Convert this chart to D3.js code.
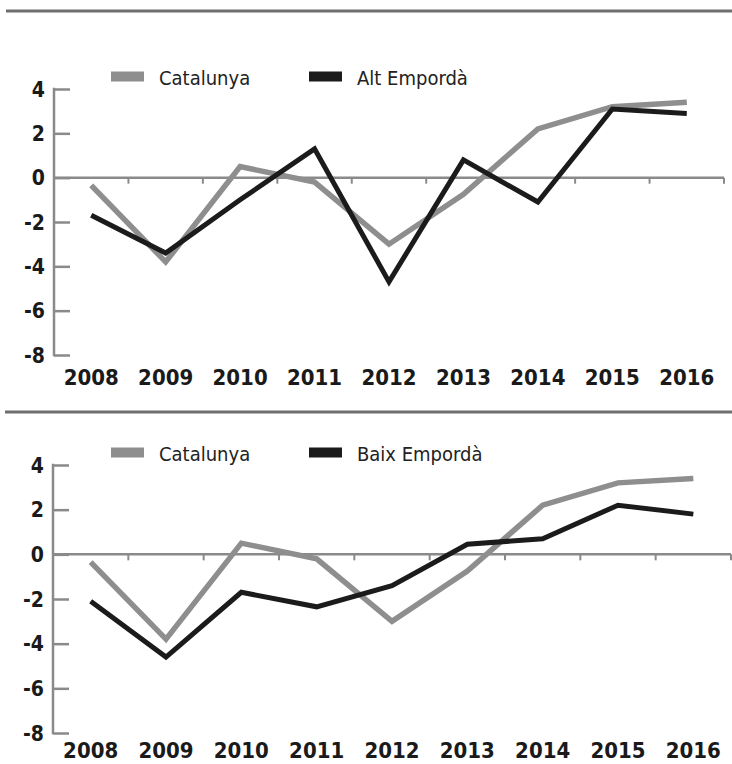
<!DOCTYPE html>
<html>
<head>
<meta charset="utf-8">
<script src="https://cdn.jsdelivr.net/npm/d3@7"></script>
<style>
  body { margin: 0; background: #fff; }
  svg { display: block; }
</style>
</head>
<body>
<svg id="chart" width="732" height="764"></svg>
<script>
// data
const years = ['2008', '2009', '2010', '2011', '2012', '2013', '2014', '2015', '2016'];
const yTicks = [4, 2, 0, -2, -4, -6, -8];
const catalunya = [-0.35, -3.8, 0.5, -0.2, -3.0, -0.75, 2.2, 3.2, 3.4];
const altEmporda = [-1.7, -3.4, -1.0, 1.3, -4.7, 0.8, -1.1, 3.1, 2.9];
const baixEmporda = [-2.1, -4.6, -1.7, -2.35, -1.4, 0.45, 0.7, 2.2, 1.8];

const grey = '#8e8e8e';
const dark = '#1b1b1b';
const axisColor = '#8a8a8a';
const labelFont = '"DejaVu Sans Condensed", "DejaVu Sans", sans-serif';
const legendFont = '"Liberation Sans Narrow", "DejaVu Sans Condensed", sans-serif';

const svg = d3.select('#chart');

function appendRule(parent, y, x0){
  parent.append('line')
    .attr('x1', x0)
    .attr('x2', 732)
    .attr('y1', y)
    .attr('y2', y)
    .style('stroke', '#6e6e6e')
    .style('stroke-width', 3);
}

function buildPanel(parent, opts){
  const g = parent.append('g').attr('class', 'panel');

  const x = d3.scaleBand()
    .domain(years)
    .range([opts.left, opts.right]);

  const y = d3.scaleLinear()
    .domain([-8, 4])
    .range([opts.bottom, opts.top]);

  // y axis, ticks pointing inward
  const yAxis = g.append('g')
    .attr('transform', `translate(${opts.left}, 0)`)
    .call(d3.axisRight(y).tickValues(yTicks).tickSize(16).tickFormat(''));
  yAxis.select('.domain').remove();
  yAxis.selectAll('.tick line')
    .style('stroke', axisColor)
    .style('stroke-width', 2.5);
  g.append('line')
    .attr('x1', opts.left)
    .attr('x2', opts.left)
    .attr('y1', y(4) - 1.2)
    .attr('y2', y(-8) + 1.2)
    .style('stroke', axisColor)
    .style('stroke-width', 2.5);

  // y labels
  g.selectAll('text.ylab')
    .data(yTicks)
    .enter()
    .append('text')
    .attr('class', 'ylab')
    .attr('x', opts.left - 9)
    .attr('y', (d) => y(d))
    .attr('dy', '0.36em')
    .attr('text-anchor', 'end')
    .style('font-family', labelFont)
    .style('font-weight', 'bold')
    .style('font-size', '21px')
    .style('fill', '#1a1a1a')
    .text((d) => d);

  // zero line with category boundary ticks
  const xAxis = g.append('g')
    .attr('transform', `translate(0, ${y(0)})`);
  xAxis.append('line')
    .attr('x1', opts.left)
    .attr('x2', opts.right)
    .style('stroke', axisColor)
    .style('stroke-width', 2.5);
  xAxis.selectAll('line.xtick')
    .data(years)
    .enter()
    .append('line')
    .attr('class', 'xtick')
    .attr('x1', (d) => x(d) + x.bandwidth())
    .attr('x2', (d) => x(d) + x.bandwidth())
    .attr('y1', 0)
    .attr('y2', 6)
    .style('stroke', axisColor)
    .style('stroke-width', 2);

  // year labels
  g.selectAll('text.xlab')
    .data(years)
    .enter()
    .append('text')
    .attr('class', 'xlab')
    .attr('x', (d) => x(d) + x.bandwidth() / 2)
    .attr('y', y(-8) + opts.labelGap)
    .attr('text-anchor', 'middle')
    .style('font-family', labelFont)
    .style('font-weight', 'bold')
    .style('font-size', '22px')
    .style('fill', '#1a1a1a')
    .text((d) => d);

  const line = d3.line()
    .x((d, i) => x(years[i]) + x.bandwidth() / 2)
    .y((d) => y(d));

  g.append('path')
    .datum(catalunya)
    .attr('d', line)
    .style('fill', 'none')
    .style('stroke', grey)
    .style('stroke-width', 5.5);

  g.append('path')
    .datum(opts.series)
    .attr('d', line)
    .style('fill', 'none')
    .style('stroke', dark)
    .style('stroke-width', 5);

  // legend
  const legend = [
    {name: 'Catalunya', color: grey, x: 111},
    {name: opts.name, color: dark, x: 309}
  ];
  const ly = y(4) - 12.5;
  const items = g.selectAll('g.legend')
    .data(legend)
    .enter()
    .append('g')
    .attr('class', 'legend')
    .attr('transform', (d) => `translate(${d.x}, ${ly})`);
  items.append('rect')
    .attr('x', 0)
    .attr('y', -5)
    .attr('width', 33)
    .attr('height', 10)
    .style('fill', (d) => d.color);
  items.append('text')
    .attr('x', 48)
    .attr('y', 8)
    .style('font-family', legendFont)
    .style('font-size', '20px')
    .style('fill', '#222')
    .text((d) => d.name);

  return g;
}

appendRule(svg, 11, 6);
appendRule(svg, 412, 5);

buildPanel(svg, {left: 54, right: 724, top: 89, bottom: 355, labelGap: 30, series: altEmporda, name: 'Alt Empordà'});
buildPanel(svg, {left: 53, right: 731, top: 465, bottom: 733, labelGap: 25, series: baixEmporda, name: 'Baix Empordà'});
</script>
</body>
</html>
